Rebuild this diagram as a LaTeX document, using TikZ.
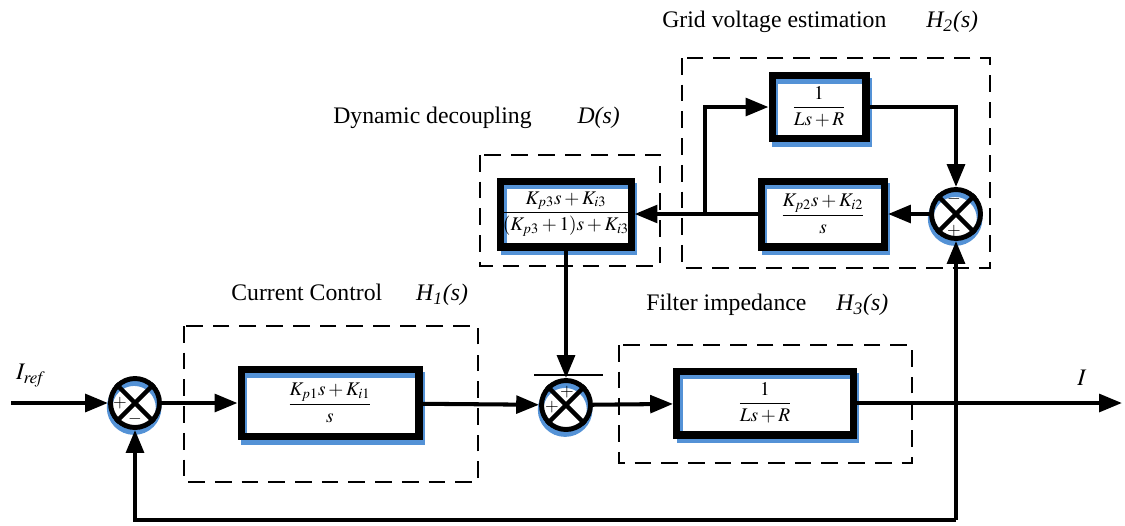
\documentclass[tikz,border=0pt]{standalone}
\usepackage{mathptmx}
\usepackage{fontspec}
\setmainfont{Liberation Serif}
\usetikzlibrary{arrows.meta}

\definecolor{shadeblue}{RGB}{84,146,214}

\tikzset{
    blk/.style={draw, rectangle, line width=4pt, inner sep=0pt,
        font=\fontsize{11}{13}\selectfont,
        preaction={fill=white},
        preaction={draw=shadeblue, line width=3.4pt,
            transform canvas={shift={(1.7pt,-3.1pt)}}}},
    summ/.style={draw, circle, line width=2.8pt, inner sep=0pt, minimum size=0.98cm,
        preaction={fill=white},
        preaction={draw=shadeblue, line width=3.2pt,
            transform canvas={shift={(-0.5pt,-2.6pt)}}}},
    sgn/.style={inner sep=0pt, font=\fontsize{10}{10}\selectfont},
    frame/.style={draw, line width=1.4pt, dash pattern=on 9.5pt off 5.7pt},
    sig/.style={line width=2.3pt, -{Triangle[length=13pt,width=10pt]}},
    ttl/.style={anchor=west, inner sep=0pt, font=\fontsize{13.5}{15}\selectfont}
}

\begin{document}
\begin{tikzpicture}[x=0.02cm, y=-0.02cm]
    \useasboundingbox (0,0) rectangle (1125,525);
    % dashed groups
    \draw[frame] (184,326) rectangle (478,482);
    \draw[frame] (619,345) rectangle (912,463);
    \draw[frame] (480,155) rectangle (660,266);
    \draw[frame] (682,58) rectangle (990,268);
    % titles
    \node[ttl] (tgrid) at (662,22) {Grid voltage estimation\hspace{0.8cm}\textit{H\textsubscript{2}(s)}};
    \node[ttl] (tdec) at (333,118) {Dynamic decoupling\hspace{0.92cm}\textit{D(s)}};
    \node[ttl] (tcur) at (231,295) {Current Control\hspace{0.68cm}\textit{H\textsubscript{1}(s)}};
    \node[ttl] (tfil) at (646,305) {Filter impedance\hspace{0.6cm}\textit{H\textsubscript{3}(s)}};
    \node[font=\fontsize{13.5}{15}\selectfont] (iref) at (31,376) {$I_{\mathit{ref}}$};
    \node[font=\fontsize{13.5}{15}\selectfont] (iout) at (1082,378) {$I$};
    % blocks
    \node[blk, minimum width=3.56cm, minimum height=1.34cm] (h1) at (330,403)
        {$\displaystyle\frac{K_{p1}s+K_{i1}}{s}$};
    \node[blk, minimum width=3.54cm, minimum height=1.28cm] (h3) at (765,403)
        {$\displaystyle\frac{1}{Ls+R}$};
    \node[blk, minimum width=2.4cm, minimum height=1.32cm] (dec) at (566,214)
        {$\displaystyle\frac{K_{p3}s+K_{i3}}{(K_{p3}+1)s+K_{i3}}$};
    \node[blk, minimum width=2.46cm, minimum height=1.32cm] (h2) at (823,214)
        {$\displaystyle\frac{K_{p2}s+K_{i2}}{s}$};
    \node[blk, minimum width=1.88cm, minimum height=1.26cm] (plant) at (819,107)
        {$\displaystyle\frac{1}{Ls+R}$};
    % summing points
    \node[summ] (s1) at (135,403) {};
    \node[summ] (s2) at (566,405) {};
    \node[summ] (s3) at (956,214) {};
    \foreach \s in {s1,s2,s3} {
        \draw[line width=2.5pt] (\s.north west) -- (\s.south east) (\s.north east) -- (\s.south west);
    }
    \node[sgn] (s1a) at ([shift={(-15,0)}]s1) {$+$};
    \node[sgn] (s1b) at ([shift={(0,16)}]s1) {$-$};
    \node[sgn] (s2a) at ([shift={(-14,2)}]s2) {$+$};
    \node[sgn] (s2b) at ([shift={(1,-13)}]s2) {$+$};
    \node[sgn] (s3a) at ([shift={(-2,-15)}]s3) {$-$};
    \node[sgn] (s3b) at ([shift={(-2,17)}]s3) {$+$};
    \draw[line width=0.7pt] (534,375) -- (603,375);
    % signals
    \coordinate (in) at (11,403);
    \coordinate (out) at (1122,403);
    \coordinate (fb) at (956,520);
    \coordinate (br) at (705,214);
    \draw[sig] (in) -- (s1);
    \draw[sig] (s1) -- (h1);
    \draw[sig] (h1) -- (s2);
    \draw[sig] (s2) -- (h3);
    \draw[sig] (h3) -- (out);
    \draw[sig] (fb) -| (s1.south);
    \draw[sig] (fb) -- (s3.south);
    \draw[sig] (s3) -- (h2);
    \draw[sig] (h2) -- (dec);
    \draw[sig] (br) |- (plant);
    \draw[sig] (plant) -| (s3.north);
    \draw[sig] (dec) -- (s2.north);
\end{tikzpicture}
\end{document}
